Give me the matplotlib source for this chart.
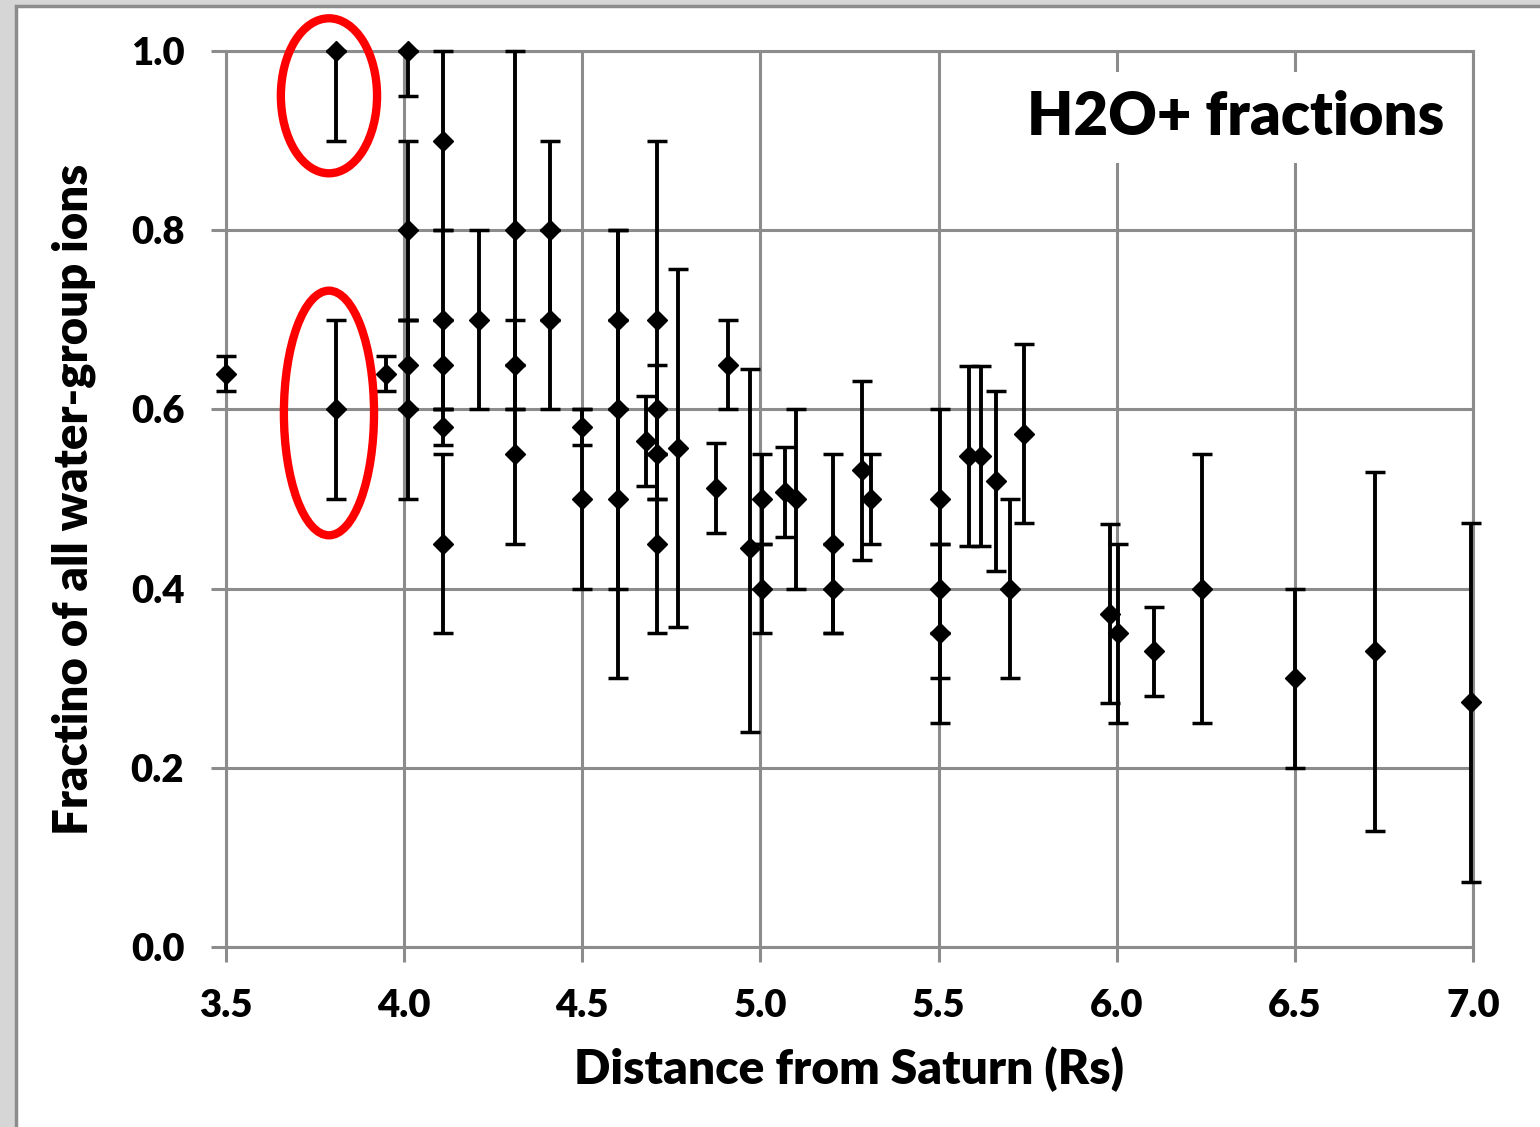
import matplotlib
matplotlib.use("Agg")
import matplotlib.pyplot as plt
from matplotlib.patches import Ellipse, Rectangle

# 데이터 (거리, 비율, 오차)
dist = [3.50, 3.81, 3.81, 3.95, 4.01, 4.01, 4.01, 4.01,
        4.11, 4.11, 4.11, 4.11, 4.11, 4.21, 4.31, 4.31, 4.31,
        4.41, 4.41, 4.50, 4.50, 4.60, 4.60, 4.60, 4.68,
        4.71, 4.71, 4.71, 4.71, 4.77, 4.875, 4.91, 4.97,
        5.005, 5.005, 5.07, 5.10, 5.205, 5.205, 5.285, 5.31,
        5.505, 5.505, 5.505, 5.585, 5.62, 5.66, 5.70, 5.74,
        5.98, 6.005, 6.105, 6.24, 6.50, 6.725, 6.995]
frac = [0.64, 1.00, 0.60, 0.64, 1.00, 0.80, 0.65, 0.60,
        0.90, 0.70, 0.65, 0.58, 0.45, 0.70, 0.80, 0.65, 0.55,
        0.80, 0.70, 0.58, 0.50, 0.70, 0.60, 0.50, 0.565,
        0.70, 0.60, 0.55, 0.45, 0.557, 0.512, 0.65, 0.445,
        0.50, 0.40, 0.508, 0.50, 0.45, 0.40, 0.532, 0.50,
        0.50, 0.40, 0.35, 0.548, 0.548, 0.52, 0.40, 0.573,
        0.372, 0.35, 0.33, 0.40, 0.30, 0.33, 0.273]
err_minus = [0.02, 0.10, 0.10, 0.02, 0.05, 0.10, 0.05, 0.10,
             0.10, 0.10, 0.05, 0.02, 0.10, 0.10, 0.20, 0.05, 0.10,
             0.10, 0.10, 0.02, 0.10, 0.10, 0.20, 0.20, 0.05,
             0.20, 0.05, 0.05, 0.10, 0.20, 0.05, 0.05, 0.205,
             0.05, 0.05, 0.05, 0.10, 0.10, 0.05, 0.10, 0.05,
             0.20, 0.05, 0.10, 0.10, 0.10, 0.10, 0.10, 0.10,
             0.10, 0.10, 0.05, 0.15, 0.10, 0.20, 0.20]
err_plus = [0.02, 0.00, 0.10, 0.02, 0.00, 0.10, 0.05, 0.10,
            0.10, 0.10, 0.05, 0.02, 0.10, 0.10, 0.20, 0.05, 0.10,
            0.10, 0.10, 0.02, 0.10, 0.10, 0.20, 0.20, 0.05,
            0.20, 0.05, 0.05, 0.10, 0.20, 0.05, 0.05, 0.20,
            0.05, 0.05, 0.05, 0.10, 0.10, 0.05, 0.10, 0.05,
            0.10, 0.05, 0.10, 0.10, 0.10, 0.10, 0.10, 0.10,
            0.10, 0.10, 0.05, 0.15, 0.10, 0.20, 0.20]

x_ticks = [3.5, 4.0, 4.5, 5.0, 5.5, 6.0, 6.5, 7.0]
y_ticks = [0.0, 0.2, 0.4, 0.6, 0.8, 1.0]

# 빨간 타원 (중심 x, 중심 y, 폭, 높이)
circles = [(3.789, 0.950, 0.27, 0.173), (3.789, 0.596, 0.253, 0.273)]

plt.rcParams['font.family'] = ['Lato', 'DejaVu Sans']
plt.rcParams['font.weight'] = 'heavy'

grid_c = '#8c8c8c'

fig = plt.figure(figsize=(15.4, 11.27), dpi=100, facecolor='#d6d6d6')
# 흰 슬라이드 영역
fig.add_artist(Rectangle((16/1540, -0.01), 1.01 - 16/1540, 1.01 - 6/1127, transform=fig.transFigure,
                         facecolor='white', edgecolor=grid_c, linewidth=2.5, zorder=-10))
ax = fig.add_axes([226/1540, 1 - 947/1127, (1473 - 226)/1540, (947 - 51)/1127])
ax.set_facecolor('none')

ax.errorbar(dist, frac, yerr=[err_minus, err_plus], fmt='D', color='black', ms=10.5,
            ecolor='black', elinewidth=2.8, capsize=7, capthick=2.5, zorder=3, clip_on=False)

for cx, cy, w, h in circles:
    ax.add_patch(Ellipse((cx, cy), w, h, fill=False, edgecolor='red', linewidth=6,
                         clip_on=False, zorder=4))

ax.set_xlim(3.5, 7.0)
ax.set_ylim(0, 1.0)
ax.set_xticks(x_ticks)
ax.set_yticks(y_ticks)
ax.set_xticklabels(['%.1f' % v for v in x_ticks], fontweight='heavy')
ax.set_yticklabels(['%.1f' % v for v in y_ticks], fontweight='heavy')
ax.grid(True, color=grid_c, linewidth=2.2)
ax.set_axisbelow(True)
for s in ax.spines.values():
    s.set_color(grid_c)
    s.set_linewidth(2.2)
ax.tick_params(length=11, width=2.2, color=grid_c, labelsize=27.5, pad=19)

ax.set_xlabel('Distance from Saturn (Rs)', fontsize=34.5, fontweight='heavy', labelpad=17)
ax.set_ylabel('Fractino of all water-group ions', fontsize=34, fontweight='heavy', labelpad=25)

ax.text(6.335, 0.926, 'H2O+ fractions', fontsize=43, fontweight='heavy', ha='center', va='center',
        bbox=dict(boxstyle='square,pad=0.3', facecolor='white', edgecolor='none'), zorder=5)

plt.savefig('out.png', dpi=100, facecolor=fig.get_facecolor())
